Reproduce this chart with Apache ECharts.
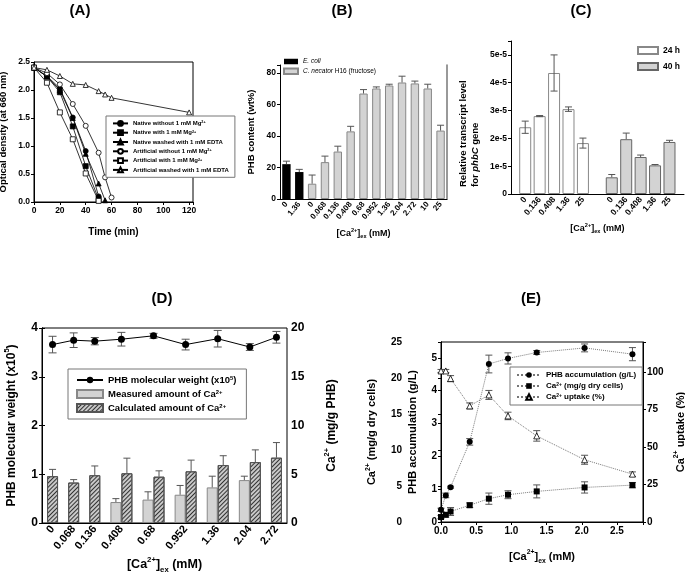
<!DOCTYPE html>
<html>
<head>
<meta charset="utf-8">
<script src="https://cdn.jsdelivr.net/npm/echarts@6.0.0/dist/echarts.min.js"></script>
<style>html,body{margin:0;padding:0;background:#fff}#main{width:685px;height:577px}</style>
</head>
<body>
<div id="main"></div>
<script>
var FONT = 'Liberation Sans';

// (A) optical density over time
var tNativeNoMg = [0, 10, 20, 30, 40, 50];
var odNativeNoMg = [2.4, 2.25, 2.03, 1.51, 0.91, 0.10];
var tNativeMg = [0, 10, 20, 30, 40, 50];
var odNativeMg = [2.4, 2.24, 1.96, 1.35, 0.64, 0.05];
var tNativeEdta = [0, 10, 20, 30, 40, 50, 55];
var odNativeEdta = [2.4, 2.24, 2.0, 1.5, 0.86, 0.33, 0.03];
var tArtNoMg = [0, 10, 20, 30, 40, 50, 55, 60];
var odArtNoMg = [2.4, 2.3, 2.1, 1.75, 1.36, 0.88, 0.44, 0.08];
var tArtMg = [0, 10, 20, 30, 40, 50];
var odArtMg = [2.4, 2.13, 1.6, 1.12, 0.51, 0.02];
var tArtEdta = [0, 10, 20, 30, 40, 50, 55, 60, 120];
var odArtEdta = [2.4, 2.36, 2.25, 2.11, 2.09, 1.98, 1.92, 1.86, 1.6];

// (B) PHB content
var catB = ['0', '1.36', '0', '0.068', '0.136', '0.408', '0.68', '0.952', '1.36', '2.04', '2.72', '10', '25'];
var ecoliB = [22.1, 17.1, null, null, null, null, null, null, null, null, null, null, null];
var necatorB = [null, null, 9.7, 23.4, 30.1, 42.9, 66.9, 70.1, 72.0, 73.9, 73.3, 70.1, 43.4];
var errB = [1.9, 1.7, 5.5, 3.8, 3.4, 3.2, 2.5, 1.0, 0.8, 4.0, 1.5, 2.7, 3.4];

// (C) phbC transcript level
var concC = ['0', '0.136', '0.408', '1.36', '25'];
var h24 = [2.4e-5, 2.8e-5, 4.35e-5, 3.05e-5, 1.83e-5];
var err24 = [0.22e-5, 0.02e-5, 0.65e-5, 0.08e-5, 0.18e-5];
var h40 = [0.6e-5, 1.97e-5, 1.33e-5, 1.03e-5, 1.87e-5];
var err40 = [0.1e-5, 0.22e-5, 0.07e-5, 0.03e-5, 0.06e-5];

// (D) molecular weight and Ca content
var catD = ['0', '0.068', '0.136', '0.408', '0.68', '0.952', '1.36', '2.04', '2.72'];
var mwD = [3.66, 3.75, 3.73, 3.77, 3.84, 3.66, 3.78, 3.61, 3.81];
var mwErr = [0.17, 0.15, 0.075, 0.14, 0.05, 0.11, 0.17, 0.07, 0.12];
var measD = [null, null, null, 2.15, 2.4, 2.9, 3.65, 4.4, null];
var measErr = [null, null, null, 0.35, 0.8, 0.95, 1.15, 0.4, null];
var calcD = [4.8, 4.15, 4.9, 5.1, 4.75, 5.3, 5.95, 6.25, 6.7];
var calcErr = [0.7, 0.3, 0.95, 1.55, 0.6, 1.15, 0.95, 1.25, 1.55];

// (E) accumulation and uptake
var concE = [0, 0.068, 0.136, 0.408, 0.68, 0.952, 1.36, 2.04, 2.72];
var phbE = [0.37, 0.81, 1.06, 2.44, 4.81, 4.98, 5.16, 5.30, 5.11];
var phbErr = [0.05, 0.07, 0.03, 0.1, 0.27, 0.17, 0.06, 0.12, 0.2];
var caCellE = [0.69, 1.0, 1.46, 2.33, 3.24, 3.79, 4.25, 4.8, 5.12];
var caCellErr = [0.23, 0.32, 0.55, 0.32, 0.78, 0.55, 0.9, 0.78, 0.37];
var uptakeE = [100.7, 100.7, 95.6, 77.4, 84.7, 70.7, 57.4, 41.5, 31.9];
var uptakeErr = [1, 1, 2, 2, 3, 2.5, 3.5, 3, 1.5];

function zip(a, b) { return a.map(function (v, i) { return [v, b[i]]; }); }
function idx(a) { return a.map(function (v, i) { return i; }); }

function rich(fs) {
    return {
        sup: { fontSize: fs * 0.62, fontWeight: 'bold', fontFamily: FONT, verticalAlign: 'top' },
        sub: { fontSize: fs * 0.62, fontWeight: 'bold', fontFamily: FONT, verticalAlign: 'bottom' },
        i: { fontSize: fs, fontWeight: 'bold', fontStyle: 'italic', fontFamily: FONT }
    };
}
function nameStyle(fs) {
    return { fontSize: fs, fontWeight: 'bold', fontFamily: FONT, color: '#000', lineHeight: fs * 1.4, rich: rich(fs) };
}
function lab(fs, extra) {
    var o = { fontSize: fs, fontWeight: 'bold', fontFamily: FONT, color: '#000', margin: 4 };
    for (var k in extra) o[k] = extra[k];
    return o;
}
var black = { show: true, lineStyle: { color: '#000', width: 1 } };
var tick = { show: true, length: 3, lineStyle: { color: '#000' } };
var noSplit = { show: false };

// error bars drawn with a custom series
function errBars(xi, yi, xs, ys, es, o) {
    var d = [];
    for (var i = 0; i < ys.length; i++) {
        if (ys[i] != null && es[i] != null) d.push([xs[i], ys[i], es[i]]);
    }
    return {
        type: 'custom', xAxisIndex: xi, yAxisIndex: yi, z: o.z || 5, silent: true,
        data: d,
        renderItem: function (p, api) {
            var x = api.value(0), y = api.value(1), e = api.value(2);
            var hi = api.coord([x, y + e]), lo = api.coord([x, o.up ? y : y - e]);
            var cx = hi[0] + (o.dx || 0), w = o.cap;
            var st = { stroke: o.color || '#555', lineWidth: 1 };
            var ch = [
                { type: 'line', shape: { x1: cx, y1: hi[1], x2: cx, y2: lo[1] }, style: st },
                { type: 'line', shape: { x1: cx - w, y1: hi[1], x2: cx + w, y2: hi[1] }, style: st }
            ];
            if (!o.up) ch.push({ type: 'line', shape: { x1: cx - w, y1: lo[1], x2: cx + w, y2: lo[1] }, style: st });
            return { type: 'group', children: ch };
        }
    };
}

function lineA(name, t, od, sym, fill) {
    return {
        type: 'line', name: name, xAxisIndex: 0, yAxisIndex: 0, data: zip(t, od),
        symbol: sym, symbolSize: 5,
        itemStyle: { color: fill, borderColor: '#000', borderWidth: 0.8 },
        lineStyle: { color: '#000', width: 0.8 }
    };
}

var valsB = catB.map(function (c, i) { return ecoliB[i] != null ? ecoliB[i] : necatorB[i]; });
var blank = concC.map(function () { return null; });
var catC = concC.concat(['']).concat(concC);
var s24 = h24.concat([null]).concat(blank);
var s40 = blank.concat([null]).concat(h40);
var e24 = err24.concat([null]).concat(blank);
var e40 = blank.concat([null]).concat(err40);

// (D) groups are as wide as the bars they hold (1 or 2) plus a gap, in bar-width units
var gapD = 0.92;
var posD = [], spanD = 0;
measD.forEach(function (m) {
    var n = m == null ? 1 : 2;
    posD.push(spanD + (n + gapD) / 2);
    spanD += n + gapD;
});
var calcPaired = calcD.map(function (v, i) { return measD[i] == null ? null : v; });
var calcSingle = calcD.map(function (v, i) { return measD[i] == null ? v : null; });
var calcPairErr = calcErr.map(function (v, i) { return measD[i] == null ? null : v; });
var calcSingleErr = calcErr.map(function (v, i) { return measD[i] == null ? v : null; });
function catAt(v) {
    for (var k = 0; k < posD.length; k++) if (Math.abs(posD[k] - v) < 1e-6) return catD[k];
    return '';
}

var hatch = {
    symbol: 'rect', symbolSize: 1, color: '#333',
    dashArrayX: [1, 0], dashArrayY: [1, 1.5], rotation: -Math.PI / 4
};

function legendFmt(n) {
    return n.replace('2+', '{sup|2+}').replace('^5', '{sup|5}')
        .replace('E. coli', '{i|E. coli}').replace('C. necator', '{i|C. necator}');
}
function legText(fs, ital) {
    var r = rich(fs);
    if (ital) r.i.fontWeight = 'normal';
    return { fontSize: fs, fontWeight: ital ? 'normal' : 'bold', fontFamily: FONT, color: '#000', rich: r };
}
function title(t, x, y) {
    return { type: 'text', x: x, y: y, style: { text: t, fontSize: 15, fontWeight: 'bold', fontFamily: FONT, fill: '#000', align: 'center' } };
}

var chart = echarts.init(document.getElementById('main'));
var option = {
    animation: false,
    textStyle: { fontFamily: FONT, color: '#000' },
    graphic: [
        title('(A)', 80, 3), title('(B)', 342, 3), title('(C)', 581, 3), title('(D)', 162, 291), title('(E)', 531, 291),
        {
            type: 'text', x: 469, y: 187, rotation: Math.PI / 2,
            style: {
                text: 'Relative transcript level\nfor {i|phbC} gene', fontSize: 9.5, fontWeight: 'bold', fontFamily: FONT,
                fill: '#000', align: 'left', verticalAlign: 'middle', lineHeight: 12, rich: rich(9.5)
            }
        }
    ],
    legend: [
        {
            orient: 'vertical', left: 106, top: 116, itemWidth: 15, itemHeight: 6, itemGap: 2.5,
            padding: [4, 6, 4, 6], borderColor: '#777', borderWidth: 1, backgroundColor: '#fff',
            formatter: legendFmt, textStyle: legText(6),
            data: ['Native without 1 mM Mg2+', 'Native with 1 mM Mg2+', 'Native washed with 1 mM EDTA',
                'Artificial without 1 mM Mg2+', 'Artificial with 1 mM Mg2+', 'Artificial washed with 1 mM EDTA']
        },
        {
            orient: 'vertical', left: 283, top: 58, itemWidth: 14, itemHeight: 5.5, itemGap: 2.5, padding: 0,
            formatter: legendFmt, textStyle: legText(6.5, true),
            data: [{ name: 'E. coli', icon: 'rect' }, { name: 'C. necator H16 (fructose)', icon: 'rect' }]
        },
        {
            orient: 'vertical', left: 637, top: 46, itemWidth: 20, itemHeight: 7, itemGap: 7, padding: 0,
            textStyle: legText(8.5),
            data: [{ name: '24 h', icon: 'rect' }, { name: '40 h', icon: 'rect' }]
        },
        {
            orient: 'vertical', left: 68, top: 369, itemWidth: 26, itemHeight: 8, itemGap: 4,
            padding: [6, 10, 6, 8], borderColor: '#777', borderWidth: 1, backgroundColor: '#fff',
            formatter: legendFmt, textStyle: legText(9.5),
            data: ['PHB molecular weight (x10^5)', { name: 'Measured amount of Ca2+', icon: 'rect' },
                { name: 'Calculated amount of Ca2+', icon: 'rect' }]
        },
        {
            orient: 'vertical', left: 510, top: 367, itemWidth: 24, itemHeight: 7, itemGap: 3,
            padding: [4, 6, 4, 6], borderColor: '#777', borderWidth: 1, backgroundColor: '#fff',
            formatter: legendFmt, textStyle: legText(8),
            data: ['PHB accumulation (g/L)', 'Ca2+ (mg/g dry cells)', 'Ca2+ uptake (%)']
        }
    ],
    grid: [
        { left: 34, top: 62, width: 159, height: 140, show: true, borderColor: '#000', borderWidth: 1, outerBoundsMode: 'none' },
        { left: 280, top: 65, width: 167, height: 134, outerBoundsMode: 'none' },
        { left: 518, top: 41, width: 158.7, height: 153, outerBoundsMode: 'none' },
        { left: 511, top: 41, width: 173, height: 153, outerBoundsMode: 'none' },
        { left: 42, top: 328, width: 245, height: 195, show: true, borderColor: '#000', borderWidth: 1, outerBoundsMode: 'none' },
        { left: 441, top: 342, width: 202, height: 180, show: true, borderColor: '#000', borderWidth: 1, outerBoundsMode: 'none' }
    ],
    xAxis: [
        {
            gridIndex: 0, type: 'value', min: 0, max: 123, interval: 20, axisLine: black, axisTick: tick, splitLine: noSplit,
            axisLabel: lab(8.5, { formatter: function (v) { return v % 20 === 0 ? v : ''; } }),
            name: 'Time (min)', nameLocation: 'middle', nameGap: 23, nameTextStyle: nameStyle(10)
        },
        {
            gridIndex: 1, type: 'category', data: catB, axisLine: black, axisTick: { show: false },
            axisLabel: lab(8, { rotate: 50, interval: 0 }),
            name: '[Ca{sup|2+}]{sub|ex} (mM)', nameLocation: 'middle', nameGap: 28, nameTextStyle: nameStyle(9)
        },
        {
            gridIndex: 2, type: 'category', data: catC, axisLine: { show: false }, axisTick: { show: false },
            axisLabel: lab(8.5, { rotate: 50, interval: 0 }),
            name: '[Ca{sup|2+}]{sub|ex} (mM)', nameLocation: 'middle', nameGap: 28, nameTextStyle: nameStyle(9)
        },
        {
            gridIndex: 3, type: 'value', min: 0, max: 1, axisLine: black, axisTick: { show: false },
            axisLabel: { show: false }, splitLine: noSplit
        },
        {
            gridIndex: 4, type: 'value', min: 0, max: spanD, axisLine: black, axisTick: { show: false }, splitLine: noSplit,
            axisLabel: lab(11, { rotate: 50, customValues: posD, formatter: catAt }),
            name: '[Ca{sup|2+}]{sub|ex} (mM)', nameLocation: 'middle', nameGap: 33, nameTextStyle: nameStyle(12.5)
        },
        { gridIndex: 4, type: 'value', min: 0, max: spanD, show: false },
        {
            gridIndex: 5, type: 'value', min: 0, max: 2.87, interval: 0.5, axisLine: black, axisTick: tick, splitLine: noSplit,
            axisLabel: lab(10, { formatter: function (v) { return Math.abs(v * 2 - Math.round(v * 2)) < 1e-6 ? v.toFixed(1) : ''; } }),
            name: '[Ca{sup|2+}]{sub|ex} (mM)', nameLocation: 'middle', nameGap: 27, nameTextStyle: nameStyle(11)
        }
    ],
    yAxis: [
        {
            gridIndex: 0, type: 'value', min: 0, max: 2.5, interval: 0.5, axisLine: black, axisTick: tick, splitLine: noSplit,
            axisLabel: lab(8.5, { formatter: function (v) { return v.toFixed(1); } }),
            name: 'Optical density (at 660 nm)', nameLocation: 'middle', nameGap: 24, nameRotate: 90, nameTextStyle: nameStyle(9.5)
        },
        {
            gridIndex: 1, type: 'value', min: 0, max: 85, interval: 20, axisLine: black, axisTick: tick, splitLine: noSplit,
            axisLabel: lab(8.5, { formatter: function (v) { return v % 20 === 0 ? v : ''; } }),
            name: 'PHB content (wt%)', nameLocation: 'middle', nameGap: 22, nameRotate: 90, nameTextStyle: nameStyle(9.5)
        },
        {
            gridIndex: 1, type: 'value', position: 'right', min: 0, max: 1,
            axisLine: { show: true, lineStyle: { color: '#777', width: 1.5 } }, axisTick: { show: false },
            axisLabel: { show: false }, splitLine: noSplit
        },
        {
            gridIndex: 2, type: 'value', offset: 7, min: 0, max: 5.5e-5, interval: 1e-5, axisLine: black, axisTick: tick, splitLine: noSplit,
            axisLabel: lab(8.5, {
                formatter: function (v) {
                    var k = Math.round(v * 1e5 * 10) / 10;
                    if (k === 0) return '0';
                    return k % 1 === 0 ? k + 'e-5' : '';
                }
            })
        },
        { gridIndex: 3, type: 'value', min: 0, max: 1, show: false },
        {
            gridIndex: 4, type: 'value', min: 0, max: 4, interval: 1, axisLine: black, axisTick: tick, splitLine: noSplit,
            axisLabel: lab(12),
            name: 'PHB molecular weight (x10{sup|5})', nameLocation: 'middle', nameGap: 22, nameRotate: 90, nameTextStyle: nameStyle(12)
        },
        {
            gridIndex: 4, type: 'value', position: 'right', min: 0, max: 20, interval: 5, axisLine: black, axisTick: tick, splitLine: noSplit,
            axisLabel: lab(12),
            name: 'Ca{sup|2+} (mg/g PHB)', nameLocation: 'middle', nameGap: 36, nameRotate: 90, nameTextStyle: nameStyle(12)
        },
        {
            gridIndex: 5, type: 'value', position: 'left', offset: 35, min: 0, max: 25, interval: 5, axisLine: black, axisTick: tick, splitLine: noSplit,
            axisLabel: lab(10),
            name: 'Ca{sup|2+} (mg/g dry cells)', nameLocation: 'middle', nameGap: 26, nameRotate: 90, nameTextStyle: nameStyle(11)
        },
        {
            gridIndex: 5, type: 'value', position: 'left', min: 0, max: 5.48, interval: 1, axisLine: black, axisTick: tick, splitLine: noSplit,
            axisLabel: lab(10, { formatter: function (v) { return v % 1 === 0 ? v : ''; } }),
            name: 'PHB accumulation (g/L)', nameLocation: 'middle', nameGap: 20, nameRotate: 90, nameTextStyle: nameStyle(11)
        },
        {
            gridIndex: 5, type: 'value', position: 'right', min: 0, max: 120, interval: 25, axisLine: black, axisTick: tick, splitLine: noSplit,
            axisLabel: lab(10, { formatter: function (v) { return v % 25 === 0 ? v : ''; } }),
            name: 'Ca{sup|2+} uptake (%)', nameLocation: 'middle', nameGap: 30, nameRotate: 90, nameTextStyle: nameStyle(11)
        }
    ],
    series: [
        // (A)
        lineA('Native without 1 mM Mg2+', tNativeNoMg, odNativeNoMg, 'circle', '#000'),
        lineA('Native with 1 mM Mg2+', tNativeMg, odNativeMg, 'rect', '#000'),
        lineA('Native washed with 1 mM EDTA', tNativeEdta, odNativeEdta, 'triangle', '#000'),
        lineA('Artificial without 1 mM Mg2+', tArtNoMg, odArtNoMg, 'circle', '#fff'),
        lineA('Artificial with 1 mM Mg2+', tArtMg, odArtMg, 'rect', '#fff'),
        lineA('Artificial washed with 1 mM EDTA', tArtEdta, odArtEdta, 'triangle', '#fff'),
        // (B)
        { type: 'bar', name: 'E. coli', xAxisIndex: 1, yAxisIndex: 1, data: ecoliB, barWidth: 8.4, barGap: '-100%', itemStyle: { color: '#000' } },
        {
            type: 'bar', name: 'C. necator H16 (fructose)', xAxisIndex: 1, yAxisIndex: 1, data: necatorB, barWidth: 8.4, barGap: '-100%',
            itemStyle: { color: '#d3d3d3', borderColor: '#888', borderWidth: 1 }
        },
        errBars(1, 1, idx(catB), valsB, errB, { up: true, cap: 3.5 }),
        // (C)
        {
            type: 'bar', name: '24 h', xAxisIndex: 2, yAxisIndex: 3, data: s24, barWidth: 12, barGap: '-100%',
            itemStyle: { color: '#fff', borderColor: '#888', borderWidth: 1 }
        },
        {
            type: 'bar', name: '40 h', xAxisIndex: 2, yAxisIndex: 3, data: s40, barWidth: 12, barGap: '-100%',
            itemStyle: { color: '#d3d3d3', borderColor: '#666', borderWidth: 1 }
        },
        errBars(2, 3, idx(catC), s24, e24, { cap: 3.5 }),
        errBars(2, 3, idx(catC), s40, e40, { up: true, cap: 3.5 }),
        // (D)
        {
            type: 'bar', name: 'Measured amount of Ca2+', xAxisIndex: 4, yAxisIndex: 6, data: zip(posD, measD), barWidth: 11, barGap: 0, z: 2,
            itemStyle: { color: '#d3d3d3', borderColor: '#888', borderWidth: 1 }
        },
        {
            type: 'bar', name: 'Calculated amount of Ca2+', xAxisIndex: 4, yAxisIndex: 6, data: zip(posD, calcPaired), barWidth: 11, barGap: 0, z: 2,
            itemStyle: { color: '#c8c8c8', borderColor: '#555', borderWidth: 1, decal: hatch }
        },
        {
            type: 'bar', name: 'Calculated amount of Ca2+', xAxisIndex: 5, yAxisIndex: 6, data: zip(posD, calcSingle), barWidth: 11, z: 2,
            itemStyle: { color: '#c8c8c8', borderColor: '#555', borderWidth: 1, decal: hatch }
        },
        errBars(4, 6, posD, measD, measErr, { up: true, cap: 3.5, dx: -5.5 }),
        errBars(4, 6, posD, calcPaired, calcPairErr, { up: true, cap: 3.5, dx: 5.5 }),
        errBars(5, 6, posD, calcSingle, calcSingleErr, { up: true, cap: 3.5 }),
        errBars(4, 5, posD, mwD, mwErr, { cap: 4 }),
        {
            type: 'line', name: 'PHB molecular weight (x10^5)', xAxisIndex: 4, yAxisIndex: 5, data: zip(posD, mwD), z: 6,
            symbol: 'circle', symbolSize: 7, itemStyle: { color: '#000' }, lineStyle: { color: '#000', width: 1 }
        },
        // (E)
        errBars(6, 8, concE, phbE, phbErr, { cap: 3.5 }),
        errBars(6, 7, concE, caCellE, caCellErr, { cap: 3.5 }),
        errBars(6, 9, concE, uptakeE, uptakeErr, { cap: 3.5 }),
        {
            type: 'line', name: 'PHB accumulation (g/L)', xAxisIndex: 6, yAxisIndex: 8, data: zip(concE, phbE), z: 6,
            symbol: 'circle', symbolSize: 6, itemStyle: { color: '#000' }, lineStyle: { color: '#777', width: 1, type: 'dotted' }
        },
        {
            type: 'line', name: 'Ca2+ (mg/g dry cells)', xAxisIndex: 6, yAxisIndex: 7, data: zip(concE, caCellE), z: 6,
            symbol: 'rect', symbolSize: 6, itemStyle: { color: '#000' }, lineStyle: { color: '#777', width: 1, type: 'dotted' }
        },
        {
            type: 'line', name: 'Ca2+ uptake (%)', xAxisIndex: 6, yAxisIndex: 9, data: zip(concE, uptakeE), z: 6,
            symbol: 'triangle', symbolSize: 6, itemStyle: { color: '#fff', borderColor: '#000', borderWidth: 0.8 },
            lineStyle: { color: '#777', width: 1, type: 'dotted' }
        }
    ]
};
chart.setOption(option);
</script>
</body>
</html>
